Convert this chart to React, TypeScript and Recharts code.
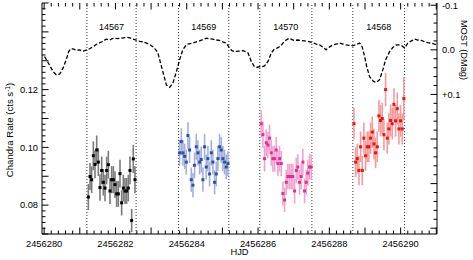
import React from 'react';
import { ComposedChart, Line, Scatter, ErrorBar, XAxis, YAxis, ReferenceLine, ReferenceArea } from 'recharts';

const HJD0 = 2456280;
const FONT = '"Liberation Sans", Arial, Helvetica, sans-serif';

// MOST light curve (days since HJD0, delta mag)
const mostT = [
  0.01, 0.15, 0.25, 0.34, 0.44, 0.53, 0.62, 0.69, 0.74, 0.81, 0.9, 1.0, 1.07, 1.14, 1.2, 1.29, 1.37, 1.46, 1.56, 1.65,
  1.74, 1.84, 1.91, 1.98, 2.05, 2.12, 2.23, 2.35, 2.42, 2.49, 2.58, 2.68, 2.77, 2.87, 2.96, 3.05, 3.12, 3.19, 3.24, 3.33,
  3.43, 3.52, 3.61, 3.71, 3.8, 3.89, 3.96, 4.03, 4.1, 4.17, 4.27, 4.36, 4.45, 4.55, 4.64, 4.73, 4.83, 4.92, 5.01, 5.11,
  5.2, 5.27, 5.34, 5.45, 5.58, 5.65, 5.72, 5.81, 5.9, 5.97, 6.04, 6.11, 6.18, 6.28, 6.37, 6.46, 6.53, 6.6, 6.67, 6.74,
  6.81, 6.88, 6.95, 7.02, 7.12, 7.21, 7.31, 7.4, 7.54, 7.63, 7.73, 7.82, 7.91, 8.0, 8.1, 8.19, 8.29, 8.38, 8.47, 8.57,
  8.66, 8.75, 8.85, 8.92, 8.99, 9.05, 9.13, 9.24, 9.32, 9.41, 9.5, 9.58, 9.69, 9.78, 9.88, 9.95, 10.02, 10.11, 10.2, 10.3,
  10.39, 10.48, 10.58, 10.67, 10.76, 10.86, 10.95, 11.0,
];
const mostMag = [
  0.015, 0.034, 0.049, 0.056, 0.054, 0.041, 0.022, 0.004, -0.002, -0.002, 0.001, 0.0, 0.003, 0.002, 0.0, -0.003, -0.007, -0.012, -0.016, -0.019,
  -0.024, -0.022, -0.025, -0.026, -0.025, -0.026, -0.027, -0.028, -0.026, -0.024, -0.022, -0.019, -0.018, -0.015, -0.012, -0.007, -0.001, 0.007, 0.022, 0.049,
  0.079, 0.084, 0.075, 0.049, 0.022, 0.0, -0.008, -0.013, -0.014, -0.015, -0.018, -0.02, -0.023, -0.026, -0.025, -0.024, -0.022, -0.021, -0.018, -0.015,
  -0.004, 0.002, 0.004, 0.003, 0.002, 0.004, 0.007, 0.026, 0.038, 0.039, 0.038, 0.038, 0.036, 0.026, 0.007, -0.002, -0.004, -0.007, -0.012, -0.019,
  -0.023, -0.026, -0.023, -0.021, -0.022, -0.021, -0.02, -0.019, -0.016, -0.013, -0.011, -0.006, 0.0, -0.006, -0.011, -0.013, -0.015, -0.013, -0.011, -0.01,
  -0.009, -0.012, -0.015, -0.007, 0.015, 0.038, 0.06, 0.071, 0.073, 0.067, 0.045, 0.022, 0.004, -0.005, -0.011, -0.011, -0.01, -0.004, -0.015, -0.02,
  -0.024, -0.022, -0.021, -0.018, -0.016, -0.015, -0.013, -0.012,
];

// Chandra ObsIDs and their time windows
const obsIds = ['14567', '14569', '14570', '14568'];
const obsStart = [1.2, 3.77, 6.05, 8.66];
const obsEnd = [2.58, 5.18, 7.51, 10.11];

const t14567 = [1.24, 1.287, 1.333, 1.38, 1.427, 1.474, 1.52, 1.567, 1.614, 1.66, 1.707, 1.754, 1.801, 1.847, 1.894, 1.941, 1.987, 2.034, 2.081, 2.128, 2.174, 2.221, 2.268, 2.314, 2.361, 2.408, 2.455, 2.501, 2.548];
const r14567 = [0.0828, 0.0899, 0.0888, 0.0971, 0.0941, 0.0991, 0.0949, 0.0861, 0.092, 0.0879, 0.0859, 0.092, 0.094, 0.0849, 0.0888, 0.0888, 0.0871, 0.0839, 0.0839, 0.0909, 0.0808, 0.0859, 0.0849, 0.0849, 0.0859, 0.092, 0.0747, 0.096, 0.0888];
const e14567 = [0.0045, 0.0047, 0.0046, 0.005, 0.0048, 0.005, 0.0048, 0.0046, 0.0048, 0.0046, 0.0046, 0.0048, 0.0048, 0.0045, 0.0047, 0.0047, 0.0046, 0.0045, 0.0045, 0.0048, 0.0044, 0.0046, 0.0045, 0.0045, 0.0046, 0.0048, 0.004, 0.0049, 0.0047];

const t14569 = [3.8, 3.847, 3.893, 3.94, 3.987, 4.034, 4.08, 4.127, 4.174, 4.22, 4.267, 4.314, 4.361, 4.407, 4.454, 4.501, 4.547, 4.594, 4.641, 4.688, 4.734, 4.781, 4.828, 4.874, 4.921, 4.968, 5.015, 5.061, 5.108, 5.155];
const r14569 = [0.0981, 0.102, 0.0981, 0.0969, 0.0949, 0.1041, 0.0991, 0.0888, 0.0869, 0.0938, 0.1002, 0.0981, 0.0949, 0.0958, 0.0888, 0.1002, 0.0932, 0.0961, 0.0908, 0.0981, 0.0949, 0.0879, 0.0908, 0.0961, 0.1002, 0.0991, 0.0961, 0.0949, 0.0932, 0.0944];
const e14569 = [0.0044, 0.0046, 0.0044, 0.0044, 0.0043, 0.0046, 0.0045, 0.0042, 0.0042, 0.0044, 0.0045, 0.0044, 0.0043, 0.0044, 0.0042, 0.0045, 0.0043, 0.0044, 0.0043, 0.0044, 0.0043, 0.0042, 0.0043, 0.0044, 0.0045, 0.0045, 0.0044, 0.0043, 0.0043, 0.0043];

const t14570 = [6.09, 6.137, 6.183, 6.23, 6.277, 6.324, 6.37, 6.417, 6.464, 6.51, 6.557, 6.604, 6.651, 6.697, 6.744, 6.791, 6.837, 6.884, 6.931, 6.978, 7.024, 7.071, 7.118, 7.164, 7.211, 7.258, 7.305, 7.351, 7.398, 7.445, 7.491];
const r14570 = [0.1082, 0.1044, 0.0961, 0.1016, 0.1008, 0.1032, 0.0981, 0.0961, 0.0961, 0.0991, 0.0944, 0.0961, 0.0944, 0.084, 0.0818, 0.0879, 0.0899, 0.0899, 0.0899, 0.0899, 0.0849, 0.092, 0.0932, 0.0879, 0.0899, 0.0949, 0.0849, 0.0879, 0.0911, 0.0932, 0.0932];
const e14570 = [0.0047, 0.0046, 0.0045, 0.0046, 0.0046, 0.0046, 0.0045, 0.0045, 0.0045, 0.0045, 0.0044, 0.0045, 0.0044, 0.0042, 0.0042, 0.0043, 0.0044, 0.0044, 0.0044, 0.0044, 0.0043, 0.0044, 0.0044, 0.0043, 0.0044, 0.0045, 0.0043, 0.0043, 0.0044, 0.0044, 0.0044];

const t14568 = [8.69, 8.737, 8.783, 8.83, 8.877, 8.924, 8.97, 9.017, 9.064, 9.11, 9.157, 9.204, 9.251, 9.297, 9.344, 9.391, 9.437, 9.484, 9.531, 9.578, 9.624, 9.671, 9.718, 9.764, 9.811, 9.858, 9.905, 9.951, 9.998, 10.045, 10.091];
const r14568 = [0.1082, 0.0949, 0.0961, 0.092, 0.1002, 0.092, 0.1032, 0.0971, 0.1002, 0.1002, 0.1032, 0.1053, 0.1012, 0.0981, 0.1002, 0.1109, 0.1093, 0.11, 0.1044, 0.12, 0.1032, 0.1064, 0.1093, 0.1082, 0.1149, 0.1092, 0.1134, 0.1064, 0.1092, 0.1064, 0.1169];
const e14568 = [0.0055, 0.0052, 0.0052, 0.0051, 0.0053, 0.0051, 0.0054, 0.0052, 0.0053, 0.0053, 0.0054, 0.0054, 0.0053, 0.0053, 0.0053, 0.0055, 0.0055, 0.0055, 0.0054, 0.0058, 0.0054, 0.0054, 0.0055, 0.0055, 0.0056, 0.0055, 0.0056, 0.0054, 0.0055, 0.0054, 0.0075];

const dotColors = ['#000000', '#2f4fa6', '#de2f96', '#f01010'];
const barColors = ['#7a7a7a', '#a2b0dc', '#f2a2d0', '#f79a9a'];

const zip = (t: number[], r: number[], e: number[]) => t.map((v, i) => ({ t: v, rate: r[i], err: e[i] }));
const segments = [zip(t14567, r14567, e14567), zip(t14569, r14569, e14569), zip(t14570, r14570, e14570), zip(t14568, r14568, e14568)];
const mostData = mostT.map((v, i) => ({ t: v, mag: mostMag[i] }));

// axis ranges
const X_DOM: [number, number] = [-0.06, 11.02];
const L_DOM: [number, number] = [0.07, 0.15];
const R_DOM: [number, number] = [-0.105, 0.413];

// tick positions and labels
const xTicks: number[] = [];
for (let i = 0; i <= 55; i++) xTicks.push(Math.round(i * 2) / 10);
const xLabelled = [0, 2, 4, 6, 8, 10];
const leftTicks: number[] = [];
for (let i = 35; i <= 75; i++) leftTicks.push(i / 500);
const leftLabels = [0.08, 0.1, 0.12];
const rightTicks: number[] = [];
for (let i = -5; i <= 20; i++) rightTicks.push(i / 50);
const rightLabels = ['-0.1', '0.0', '+0.1'];
const rightLabelVals = [-0.1, 0, 0.1];

const near = (a: number, b: number) => Math.abs(a - b) < 1e-6;

// inward tick marks (IDL box style), lengths converted from px to data units
const pxY = (L_DOM[1] - L_DOM[0]) / 231;
const pxX = (X_DOM[1] - X_DOM[0]) / 395;
const MAJOR = 6.5;
const MINOR = 3.5;
type Seg = { seg: { x: number; y: number }[]; axis: string };
const tickSegs: Seg[] = [];
xTicks.forEach((v) => {
  const len = (near(v, Math.round(v)) ? MAJOR : MINOR) * pxY;
  tickSegs.push({ seg: [{ x: v, y: L_DOM[0] }, { x: v, y: L_DOM[0] + len }], axis: 'left' });
  tickSegs.push({ seg: [{ x: v, y: L_DOM[1] }, { x: v, y: L_DOM[1] - len }], axis: 'left' });
});
leftTicks.forEach((v) => {
  const len = (near(v * 100, Math.round(v * 100)) ? MAJOR : MINOR) * pxX;
  tickSegs.push({ seg: [{ x: X_DOM[0], y: v }, { x: X_DOM[0] + len, y: v }], axis: 'left' });
});
rightTicks.forEach((v) => {
  const len = (near(v * 10, Math.round(v * 10)) ? MAJOR : MINOR) * pxX;
  tickSegs.push({ seg: [{ x: X_DOM[1], y: v }, { x: X_DOM[1] - len, y: v }], axis: 'right' });
});

const XTick = (props: any) => {
  const { x, y, payload } = props;
  const v = payload.value;
  if (!xLabelled.some((l) => near(l, v))) return <g />;
  return (
    <text x={x} y={y + 13} textAnchor="middle" fontSize={9.3} fontFamily={FONT} fill="#000">
      {HJD0 + Math.round(v)}
    </text>
  );
};

const LeftTick = (props: any) => {
  const { x, y, payload } = props;
  const v = payload.value;
  if (!leftLabels.some((l) => near(l, v))) return <g />;
  return (
    <text x={x - 4} y={y + 3.3} textAnchor="end" fontSize={9.3} fontFamily={FONT} fill="#000">
      {v.toFixed(2)}
    </text>
  );
};

const RightTick = (props: any) => {
  const { x, y, payload } = props;
  const li = rightLabelVals.findIndex((l) => near(l, payload.value));
  if (li < 0) return <g />;
  return (
    <text x={x + 5} y={y + 3.3} textAnchor="start" fontSize={9.3} fontFamily={FONT} fill="#000">
      {rightLabels[li]}
    </text>
  );
};

const square = (color: string) => (p: any) => (
  <rect x={p.cx - 1.5} y={p.cy - 1.5} width={3} height={3} fill={color} />
);

const axisLine = { stroke: '#000', strokeWidth: 1 };

export default function App() {
  return (
    <div style={{ position: 'absolute', left: 0, top: 0, background: '#fff' }}>
      <ComposedChart width={473} height={260} margin={{ top: 3, right: 0, bottom: 0, left: 0 }}>
        <XAxis
          xAxisId="b"
          type="number"
          dataKey="t"
          domain={X_DOM}
          allowDataOverflow
          ticks={xTicks}
          interval={0}
          tickSize={0}
          tickMargin={0}
          tickLine={false}
          tick={(p: any) => <XTick {...p} />}
          height={26}
          axisLine={axisLine}
          label={{ value: 'HJD', position: 'insideBottom', offset: 5, fontSize: 9.3, fontFamily: FONT, fill: '#000' }}
        />
        <XAxis xAxisId="top" orientation="top" type="number" domain={X_DOM} allowDataOverflow tick={false} tickLine={false} height={0} axisLine={axisLine} />
        <YAxis
          yAxisId="left"
          type="number"
          dataKey="rate"
          domain={L_DOM}
          allowDataOverflow
          ticks={leftTicks}
          interval={0}
          tickSize={0}
          tickMargin={0}
          tickLine={false}
          tick={(p: any) => <LeftTick {...p} />}
          width={42}
          axisLine={axisLine}
          label={{
            content: () => (
              <text transform="translate(13,130) rotate(-90)" textAnchor="middle" fontSize={9.6} fontFamily={FONT} fill="#000">
                Chandra Rate (cts s
                <tspan dy={-3.5} fontSize={6.5}>-1</tspan>
                <tspan dy={3.5}>)</tspan>
              </text>
            ),
          }}
        />
        <YAxis
          yAxisId="right"
          orientation="right"
          type="number"
          domain={R_DOM}
          reversed
          allowDataOverflow
          ticks={rightTicks}
          interval={0}
          tickSize={0}
          tickMargin={0}
          tickLine={false}
          tick={(p: any) => <RightTick {...p} />}
          width={36}
          axisLine={axisLine}
          label={{
            content: () => (
              <text transform="translate(461,50) rotate(90)" textAnchor="middle" fontSize={9.3} fontFamily={FONT} fill="#000">
                MOST (DMag)
              </text>
            ),
          }}
        />

        {tickSegs.map((s, i) => (
          <ReferenceLine key={'t' + i} xAxisId="b" yAxisId={s.axis} segment={s.seg} stroke="#000" strokeWidth={1} ifOverflow="visible" />
        ))}

        {obsIds.map((id, i) => (
          <ReferenceArea
            key={'a' + id}
            xAxisId="b"
            yAxisId="left"
            x1={obsStart[i]}
            x2={obsEnd[i]}
            fill="none"
            fillOpacity={0}
            stroke="none"
            label={{ value: id, position: 'insideTop', offset: 21, fontSize: 9, fontFamily: FONT, fill: '#000' }}
          />
        ))}
        {obsStart.concat(obsEnd).map((v, i) => (
          <ReferenceLine key={'l' + i} xAxisId="b" yAxisId="left" x={v} stroke="#333" strokeWidth={1} strokeDasharray="1 2" />
        ))}

        <Line
          xAxisId="b"
          yAxisId="right"
          data={mostData}
          dataKey="mag"
          type="linear"
          stroke="#000"
          strokeWidth={1.3}
          strokeDasharray="4 2"
          dot={false}
          isAnimationActive={false}
        />

        {segments.map((seg, i) => (
          <Scatter
            key={obsIds[i]}
            xAxisId="b"
            yAxisId="left"
            data={seg}
            dataKey="rate"
            shape={square(dotColors[i])}
            isAnimationActive={false}
          >
            <ErrorBar dataKey="err" direction="y" width={0} stroke={barColors[i]} strokeWidth={1.6} />
          </Scatter>
        ))}
      </ComposedChart>
    </div>
  );
}
